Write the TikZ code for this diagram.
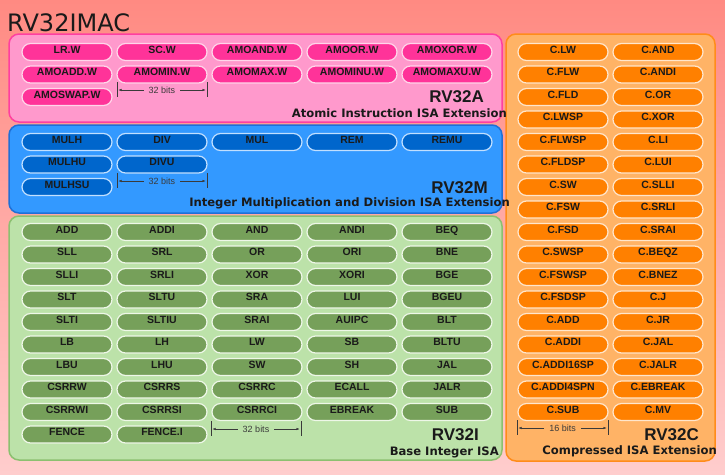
\documentclass[tikz,border=0pt]{standalone}
\usepackage{fontspec}
\setmainfont{Liberation Sans}
\newfontfamily\titlefont{DejaVu Sans}
\usetikzlibrary{arrows.meta}
\definecolor{BgTop}{HTML}{FF8A82}
\definecolor{BgBottom}{HTML}{FFCDCD}
\definecolor{InkDark}{HTML}{1A1A1A}
\definecolor{DimGray}{HTML}{3A3A3A}
\definecolor{AtomFill}{HTML}{FF99CC}
\definecolor{AtomEdge}{HTML}{FF3FA0}
\definecolor{AtomPill}{HTML}{FF3399}
\definecolor{AtomRim}{HTML}{FFD6EA}
\definecolor{MulFill}{HTML}{3399FF}
\definecolor{MulEdge}{HTML}{1F70D6}
\definecolor{MulPill}{HTML}{0066CC}
\definecolor{MulRim}{HTML}{C2E0FF}
\definecolor{BaseFill}{HTML}{BCE2A9}
\definecolor{BaseEdge}{HTML}{8CC070}
\definecolor{BasePill}{HTML}{76A05A}
\definecolor{BaseRim}{HTML}{EEF7E8}
\definecolor{CompFill}{HTML}{FFB366}
\definecolor{CompEdge}{HTML}{FF8C1A}
\definecolor{CompPill}{HTML}{FF8000}
\definecolor{CompRim}{HTML}{FFE6CC}

\begin{document}
\begin{tikzpicture}[x=1pt,y=-1pt,
    pill/.style={draw,line width=1.2pt,rounded corners=8.5pt,minimum width=90pt,
      minimum height=17pt,inner sep=0pt,text height=8pt,text depth=6pt,
      font=\fontsize{10.5}{12}\selectfont\bfseries,text=InkDark},
    isabox/.style={line width=1.5pt,rounded corners=10pt},
    isaname/.style={font=\fontsize{17}{20}\selectfont\bfseries,text=InkDark,inner sep=0pt,anchor=base east},
    isasub/.style={font=\titlefont\fontsize{11.6}{14}\selectfont\bfseries,text=InkDark,inner sep=0pt,anchor=base east},
    bits/.style={font=\fontsize{9}{10}\selectfont,text=DimGray,inner sep=5pt},
    dimarrow/.style={-{Latex[length=3pt,width=2.5pt]},thin,DimGray,shorten >=1.5pt},
    dimbar/.style={thin,DimGray}]
  \useasboundingbox (0,0) rectangle (725,474);
  \shade[top color=BgTop,bottom color=BgBottom] (0,0) rectangle (725,474);
  \node[anchor=west,inner sep=0pt,font=\titlefont\fontsize{24}{27}\selectfont,text=InkDark]
    (title) at (7,23) {RV32IMAC};

  % extension boxes
  \draw[isabox,fill=AtomFill,draw=AtomEdge] (9,34) rectangle (502,122);
  \draw[isabox,fill=MulFill,draw=MulEdge] (9,125) rectangle (502,213);
  \draw[isabox,fill=BaseFill,draw=BaseEdge] (9,216) rectangle (502,460);
  \draw[isabox,fill=CompFill,draw=CompEdge] (506,34) rectangle (715,461);

  % RV32A
  \foreach \name [count=\i from 0] in {LR.W,SC.W,AMOAND.W,AMOOR.W,AMOXOR.W,
      AMOADD.W,AMOMIN.W,AMOMAX.W,AMOMINU.W,AMOMAXU.W,AMOSWAP.W} {
    \pgfmathtruncatemacro\col{mod(\i,5)}
    \pgfmathtruncatemacro\row{div(\i,5)}
    \node[pill,fill=AtomPill,draw=AtomRim] (atom\i) at ({67+95*\col},{52+22.5*\row}) {\name};
  }
  % RV32M
  \foreach \name/\col/\row [count=\i] in {MULH/0/0,DIV/1/0,MUL/2/0,REM/3/0,REMU/4/0,
      MULHU/0/1,DIVU/1/1,MULHSU/0/2} {
    \node[pill,fill=MulPill,draw=MulRim] (mul\i) at ({67+95*\col},{142+22.5*\row}) {\name};
  }
  % RV32I
  \foreach \name [count=\i from 0] in {ADD,ADDI,AND,ANDI,BEQ,
      SLL,SRL,OR,ORI,BNE,
      SLLI,SRLI,XOR,XORI,BGE,
      SLT,SLTU,SRA,LUI,BGEU,
      SLTI,SLTIU,SRAI,AUIPC,BLT,
      LB,LH,LW,SB,BLTU,
      LBU,LHU,SW,SH,JAL,
      CSRRW,CSRRS,CSRRC,ECALL,JALR,
      CSRRWI,CSRRSI,CSRRCI,EBREAK,SUB,
      FENCE,FENCE.I} {
    \pgfmathtruncatemacro\col{mod(\i,5)}
    \pgfmathtruncatemacro\row{div(\i,5)}
    \node[pill,fill=BasePill,draw=BaseRim] (base\i) at ({67+95*\col},{232+22.5*\row}) {\name};
  }
  % RV32C
  \foreach \left/\right [count=\i from 0] in {C.LW/C.AND,C.FLW/C.ANDI,C.FLD/C.OR,
      C.LWSP/C.XOR,C.FLWSP/C.LI,C.FLDSP/C.LUI,C.SW/C.SLLI,C.FSW/C.SRLI,
      C.FSD/C.SRAI,C.SWSP/C.BEQZ,C.FSWSP/C.BNEZ,C.FSDSP/C.J,C.ADD/C.JR,
      C.ADDI/C.JAL,C.ADDI16SP/C.JALR,C.ADDI4SPN/C.EBREAK,C.SUB/C.MV} {
    \node[pill,fill=CompPill,draw=CompRim] (compL\i) at (563,{52+22.5*\i}) {\left};
    \node[pill,fill=CompPill,draw=CompRim] (compR\i) at (658,{52+22.5*\i}) {\right};
  }

  % widths
  \foreach \k/\xl/\xr/\ym/\n in {A/117/207/90/32,M/117/207/181/32,
      I/211/301/429/32,C/517/608/428/16} {
    \coordinate (\k barL) at (\xl,\ym);
    \coordinate (\k barR) at (\xr,\ym);
    \draw[dimbar] ([yshift=8pt]\k barL) -- ([yshift=-7pt]\k barL);
    \draw[dimbar] ([yshift=8pt]\k barR) -- ([yshift=-7pt]\k barR);
    \node[bits] (bits\k) at ({(\xl+\xr)/2},\ym) {\n\ bits};
    \draw[dimarrow] (bits\k.west) -- (\k barL);
    \draw[dimarrow] (bits\k.east) -- (\k barR);
  }

  % extension names
  \node[isaname] (nameA) at (484,102) {RV32A};
  \node[isasub] (subA) at (507,117) {Atomic Instruction ISA Extension};
  \node[isaname] (nameM) at (488,193) {RV32M};
  \node[isasub] (subM) at (510,206) {Integer Multiplication and Division ISA Extension};
  \node[isaname] (nameI) at (479,440) {RV32I};
  \node[isasub] (subI) at (499,455) {Base Integer ISA};
  \node[isaname] (nameC) at (699,440) {RV32C};
  \node[isasub] (subC) at (717,454) {Compressed ISA Extension};
\end{tikzpicture}
\end{document}
